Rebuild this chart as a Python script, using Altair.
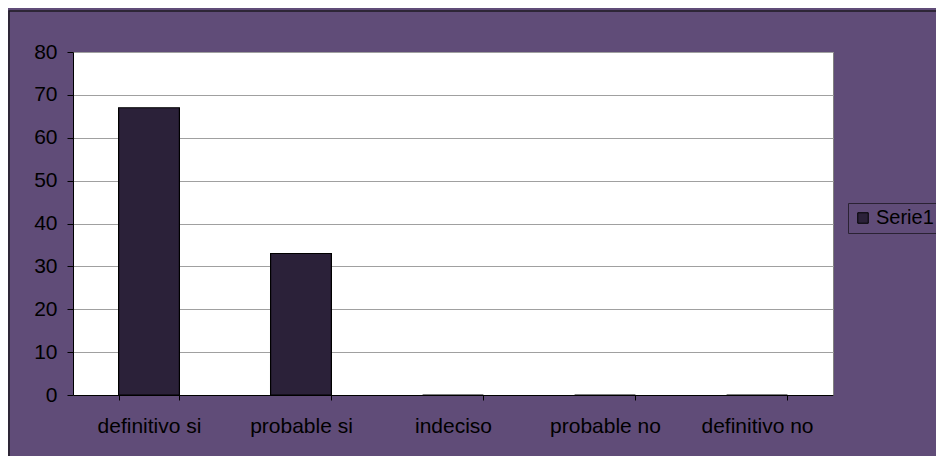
import altair as alt
import pandas as pd

categories = ["definitivo si", "probable si", "indeciso", "probable no", "definitivo no"]
values = [67, 33, 0, 0, 0]
series_name = "Serie1"

df = pd.DataFrame({"cat": categories, "val": values, "serie": [series_name] * len(categories)})

PURPLE = "#604c78"
BAR = "#2b2139"
FONT = "Liberation Sans"
FS = 21

frame = alt.Chart(pd.DataFrame({"a": [0]})).mark_rect(
    fill=None, stroke="#1e1a22", strokeWidth=1.5
).encode(
    x=alt.value(-64), x2=alt.value(880),
    y=alt.value(-41), y2=alt.value(420),
)

bars = alt.Chart(df).mark_bar(stroke="#000000", strokeWidth=1.2).encode(
    x=alt.X("cat:N", sort=categories, title=None,
            scale=alt.Scale(paddingInner=0.6, paddingOuter=0.3),
            axis=alt.Axis(labelAngle=0, tickBand="extent", tickSize=5, tickColor="#000000",
                          domainColor="#000000", labelPadding=15, labelFontSize=FS,
                          labelFont=FONT, labelColor="#000000", grid=False)),
    y=alt.Y("val:Q", title=None,
            scale=alt.Scale(domain=[0, 80]),
            axis=alt.Axis(values=list(range(0, 81, 10)), tickSize=6, tickColor="#000000",
                          domainColor="#000000", labelPadding=10, labelFontSize=FS,
                          labelFont=FONT, labelColor="#000000",
                          grid=True, gridColor="#a0a0a0", gridWidth=1.2)),
    color=alt.Color("serie:N", title=None,
                    scale=alt.Scale(range=[BAR]),
                    legend=alt.Legend(orient="none", legendX=775, legendY=151,
                                      fillColor=PURPLE, strokeColor="#2a2233",
                                      padding=5, symbolType="square", symbolSize=110,
                                      symbolStrokeColor="#000000", symbolStrokeWidth=1,
                                      labelFontSize=20, labelFont=FONT, labelColor="#000000",
                                      labelOffset=3)),
)

chart = alt.layer(frame, bars).properties(
    width=760, height=343,
    autosize=alt.AutoSizeParams(type="none"),
    padding={"left": 65, "top": 44, "right": 103, "bottom": 61},
    background=PURPLE,
).configure_view(
    fill="#ffffff", stroke="#808080", strokeWidth=1
)

chart.save("out.html", embed_options={"renderer": "svg", "actions": False})
